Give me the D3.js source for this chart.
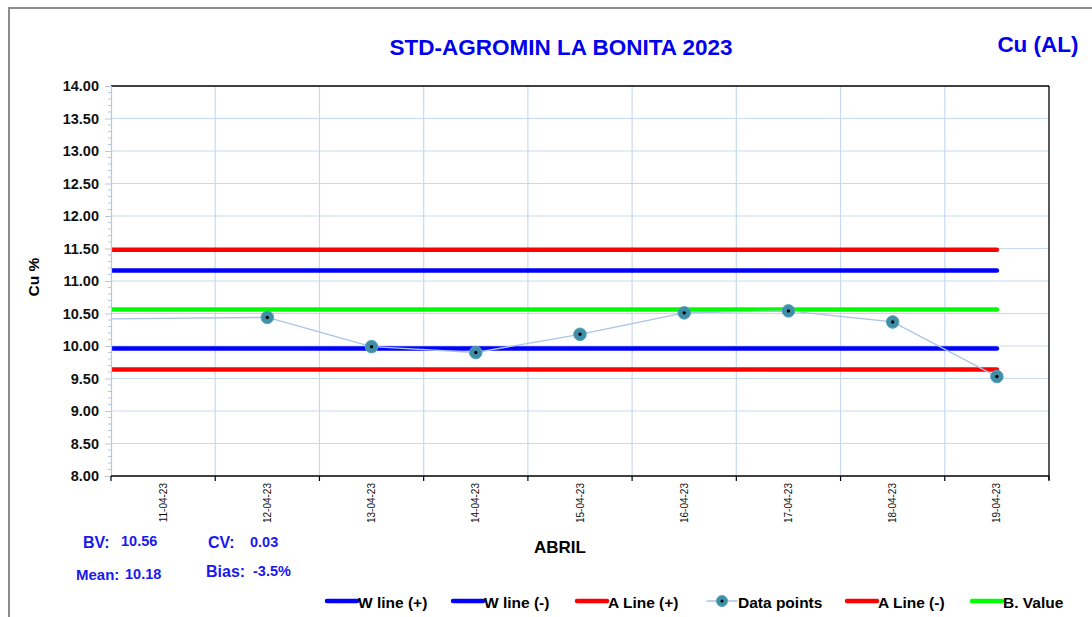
<!DOCTYPE html>
<html>
<head>
<meta charset="utf-8">
<script src="https://cdn.jsdelivr.net/npm/d3@7"></script>
<style>
html,body{margin:0;padding:0;background:#fff;}
svg{display:block;font-family:"Liberation Sans",Arial,sans-serif;}
</style>
</head>
<body>
<script>
// ---- data ----
const categories = ["11-04-23","12-04-23","13-04-23","14-04-23","15-04-23","16-04-23","17-04-23","18-04-23","19-04-23"];
const prevCategory = "10-04-23";          // earlier sample, outside the plotted window
const prevValue = 10.41;
const dataDates = ["12-04-23","13-04-23","14-04-23","15-04-23","16-04-23","17-04-23","18-04-23","19-04-23"];
const dataValues = [10.44, 9.99, 9.90, 10.18, 10.51, 10.54, 10.37, 9.53];
const bValue = 10.56;
const wPlus = 11.16, wMinus = 9.96;
const aPlus = 11.48, aMinus = 9.64;
const yTicks = [8.00,8.50,9.00,9.50,10.00,10.50,11.00,11.50,12.00,12.50,13.00,13.50,14.00];
const stats = {BV:"10.56", CV:"0.03", Mean:"10.18", Bias:"-3.5%"};
const legendItems = [
  {label:"W line (+)", color:"#0000ff", type:"line"},
  {label:"W line (-)", color:"#0000ff", type:"line"},
  {label:"A Line (+)", color:"#ff0000", type:"line"},
  {label:"Data points", color:"#a9c4e6", type:"marker"},
  {label:"A Line (-)", color:"#ff0000", type:"line"},
  {label:"B. Value", color:"#00ff00", type:"line"}
];

const W = 1092, H = 617;
const m = {left:111, right:1049, top:86, bottom:476};

const svg = d3.select("body").append("svg").attr("width", W).attr("height", H);

// outer frame
svg.append("rect").attr("x",9).attr("y",8).attr("width",W+20).attr("height",H+20)
  .attr("fill","none").attr("stroke","#8c8c8c").attr("stroke-width",2);

const x = d3.scaleBand().domain(categories).range([m.left, m.right]).paddingInner(0).paddingOuter(0);
const bw = x.bandwidth();
const cx = d => d === prevCategory ? x(categories[0]) - bw/2 : x(d) + bw/2;
const y = d3.scaleLinear().domain([8,14]).range([m.bottom, m.top]);

const gridColor = "#c8daf0";

// horizontal grid
svg.append("g").selectAll("line").data(yTicks.slice(1,-1)).join("line")
  .attr("x1", m.left).attr("x2", m.right).attr("y1", d=>y(d)).attr("y2", d=>y(d))
  .attr("stroke", gridColor).attr("stroke-width",1.2);
// vertical grid (category boundaries)
svg.append("g").selectAll("line").data(categories.slice(1)).join("line")
  .attr("x1", d=>x(d)).attr("x2", d=>x(d)).attr("y1", m.top).attr("y2", m.bottom)
  .attr("stroke", gridColor).attr("stroke-width",1.2);

// clip
svg.append("clipPath").attr("id","plotclip").append("rect")
  .attr("x", m.left).attr("y", m.top-10).attr("width", m.right-m.left+20).attr("height", m.bottom-m.top+20);

const plot = svg.append("g").attr("clip-path","url(#plotclip)");
const lineGen = d3.line().x(d=>cx(d[0])).y(d=>y(d[1]));
const refCats = [prevCategory].concat(categories);

const series = [[prevCategory, prevValue]].concat(dataDates.map((d,i)=>[d, dataValues[i]]));

const limits = [
  {v:aPlus, c:"#ff0000"},
  {v:wPlus, c:"#0000ff"},
  {v:bValue, c:"#00ff00"},
  {v:wMinus, c:"#0000ff"},
  {v:aMinus, c:"#ff0000"}
];
limits.forEach(L=>{
  plot.append("path").datum(refCats.map(c=>[c, L.v]))
    .attr("d", lineGen).attr("fill","none").attr("stroke", L.c)
    .attr("stroke-width",4.5).attr("stroke-linecap","round");
});

plot.append("path").datum(series).attr("d", lineGen)
  .attr("fill","none").attr("stroke","#a9c4e6").attr("stroke-width",1.3);

// markers
const mk = svg.append("g").selectAll("g").data(dataDates.map((d,i)=>[d, dataValues[i]])).join("g")
  .attr("transform", d=>`translate(${cx(d[0])},${y(d[1])})`);
mk.append("circle").attr("r",6.3).attr("fill","#3f8fa8").attr("stroke","#5aa3b8").attr("stroke-width",1);
mk.append("circle").attr("r",1.7).attr("fill","#000");

// top and right border
svg.append("line").attr("x1",m.left).attr("x2",m.right).attr("y1",m.top).attr("y2",m.top)
  .attr("stroke","#000").attr("stroke-width",1.3);
svg.append("line").attr("x1",m.right).attr("x2",m.right).attr("y1",m.top).attr("y2",m.bottom+4)
  .attr("stroke","#000").attr("stroke-width",1.3);

// y axis
const yAxis = svg.append("g").attr("transform",`translate(${m.left},0)`)
  .call(d3.axisLeft(y).tickValues(yTicks).tickFormat(d3.format(".2f")).tickSize(6).tickPadding(6));
yAxis.select(".domain").attr("stroke","#b8c8dc").attr("stroke-width",1.2);
yAxis.selectAll(".tick line").attr("stroke","#b8c8dc");
yAxis.selectAll("text").attr("font-size",14.5).attr("font-weight","bold").attr("fill","#111");
// minor ticks
const minor = d3.range(80,141).map(v=>v/10).filter(v=>Math.round(v*10)%5!==0);
svg.append("g").selectAll("line").data(minor).join("line")
  .attr("x1",m.left-3).attr("x2",m.left).attr("y1",d=>y(d)).attr("y2",d=>y(d))
  .attr("stroke","#b8c8dc").attr("stroke-width",1);

// x axis
const xAxisG = svg.append("g").attr("transform",`translate(0,${m.bottom})`);
xAxisG.append("line").attr("x1",m.left).attr("x2",m.right).attr("stroke","#000").attr("stroke-width",1.3);
xAxisG.selectAll("line.tk").data(categories.concat(["__end"])).join("line").attr("class","tk")
  .attr("x1",d=>d==="__end"?m.right:x(d)).attr("x2",d=>d==="__end"?m.right:x(d))
  .attr("y1",0).attr("y2",5).attr("stroke","#000").attr("stroke-width",1.2);
xAxisG.selectAll("text").data(categories).join("text")
  .attr("transform",d=>`translate(${cx(d)+3.5},7) rotate(-90)`)
  .attr("text-anchor","end").attr("font-size",10).attr("fill","#111").text(d=>d);

// titles
svg.append("text").attr("x",561).attr("y",55).attr("text-anchor","middle")
  .attr("font-size",22.5).attr("font-weight","bold").attr("fill","#0000ee").text("STD-AGROMIN LA BONITA 2023");
svg.append("text").attr("x",1038).attr("y",52).attr("text-anchor","middle")
  .attr("font-size",22.5).attr("font-weight","bold").attr("fill","#0000ee").text("Cu (AL)");
svg.append("text").attr("transform","translate(39,277) rotate(-90)").attr("text-anchor","middle")
  .attr("font-size",15.5).attr("font-weight","bold").attr("fill","#000").text("Cu %");
svg.append("text").attr("x",560).attr("y",553).attr("text-anchor","middle")
  .attr("font-size",17).attr("font-weight","bold").attr("fill","#000").text("ABRIL");

// stats
const sc = "#1a1aee";
const st = [
  {t:"BV:", x:83, y:548, s:16}, {t:stats.BV, x:121, y:546, s:14.5},
  {t:"CV:", x:208, y:548, s:16}, {t:stats.CV, x:250, y:547, s:14.5},
  {t:"Mean:", x:76, y:580, s:15}, {t:stats.Mean, x:125, y:579, s:14.5},
  {t:"Bias:", x:206, y:577, s:16}, {t:stats.Bias, x:253, y:576, s:14.5}
];
svg.append("g").selectAll("text").data(st).join("text")
  .attr("x",d=>d.x).attr("y",d=>d.y).attr("font-size",d=>d.s).attr("font-weight","bold")
  .attr("fill",sc).text(d=>d.t);

// legend
const legX = [327, 453, 577, 707, 847, 972];
const lg = svg.append("g").selectAll("g").data(legendItems).join("g")
  .attr("transform",(d,i)=>`translate(${legX[i]},601)`);
lg.append("line").attr("x1",0).attr("x2",30).attr("y1",0).attr("y2",0)
  .attr("stroke",d=>d.color).attr("stroke-width",d=>d.type==="line"?4.5:1.3).attr("stroke-linecap","round");
lg.filter(d=>d.type==="marker").append("circle").attr("cx",15).attr("r",5.5).attr("fill","#3f8fa8").attr("stroke","#5aa3b8");
lg.filter(d=>d.type==="marker").append("circle").attr("cx",15).attr("r",1.5).attr("fill","#000");
lg.append("text").attr("x",31).attr("y",6.5).attr("font-size",15.5).attr("font-weight","bold").attr("fill","#000")
  .text(d=>d.label);
</script>
</body>
</html>
